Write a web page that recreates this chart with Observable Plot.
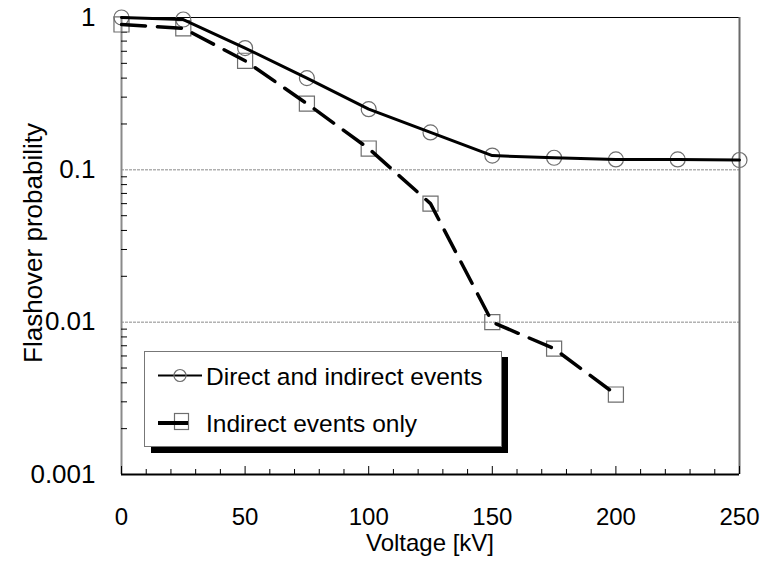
<!DOCTYPE html>
<html>
<head>
<meta charset="utf-8">
<script src="https://cdn.jsdelivr.net/npm/d3@7"></script>
<script src="https://cdn.jsdelivr.net/npm/@observablehq/plot@0.6"></script>
<style>
  html, body { margin: 0; padding: 0; background: #fff; }
  #chart { width: 778px; height: 562px; }
</style>
</head>
<body>
<div id="chart"></div>
<script>
// ---- data ----
const voltage = [0, 25, 50, 75, 100, 125, 150, 175, 200, 225, 250];
const directProb = [1.0, 0.97, 0.63, 0.40, 0.25, 0.176, 0.124, 0.12, 0.117, 0.117, 0.116];
const indirectVoltage = [0, 25, 50, 75, 100, 125, 150, 175, 200];
const indirectProb = [0.90, 0.85, 0.52, 0.272, 0.138, 0.060, 0.010, 0.0067, 0.00335];

const xTicks = [0, 50, 100, 150, 200, 250];
const xMinorTicks = d3.range(10, 250, 10).filter(v => v % 50 !== 0);
const yTicks = [1, 0.1, 0.01, 0.001];
const yTickLabels = ["1", "0.1", "0.01", "0.001"];
const yMinorTicks = [0.001, 0.01, 0.1].flatMap(d => [2,3,4,5,6,7,8,9].map(k => +(d * k).toPrecision(3)));
const gridValues = [0.1, 0.01];

const seriesNames = ["Direct and indirect events", "Indirect events only"];
const xLabel = "Voltage [kV]";
const yLabel = "Flashover probability";

const direct = voltage.map((v, i) => ({v, p: directProb[i]}));
const indirect = indirectVoltage.map((v, i) => ({v, p: indirectProb[i]}));

const W = 778, H = 562;
const mL = 121, mR = 39, mT = 17, mB = 88;
const frameH = H - mT - mB, frameW = W - mL - mR;
const FONT = "'Liberation Sans', Arial, Helvetica, sans-serif";

const chart = Plot.plot({
  width: W, height: H,
  marginLeft: mL, marginRight: mR, marginTop: mT, marginBottom: mB,
  style: {fontFamily: FONT, fontSize: "24px", background: "#fff", color: "#000", overflow: "visible"},
  x: {domain: [0, 250]},
  y: {type: "log", domain: [0.001, 1]},
  marks: [
    Plot.ruleY(gridValues, {stroke: "#8a8a8a", strokeWidth: 1, strokeDasharray: "3,1"}),
    Plot.ruleY([1], {stroke: "#000", strokeWidth: 1}),
    Plot.ruleX([250], {stroke: "#6a6a6a", strokeWidth: 2}),
    Plot.ruleX([0], {stroke: "#8a8a8a", strokeWidth: 2}),
    // minor ticks (inward)
    Plot.tickX(xMinorTicks, {x: d => d, insetTop: frameH - 5, stroke: "#000", strokeWidth: 1}),
    Plot.tickX(xTicks, {x: d => d, insetTop: frameH - 8, stroke: "#000", strokeWidth: 1}),
    Plot.tickY(yMinorTicks, {y: d => d, insetRight: frameW - 6, stroke: "#000", strokeWidth: 1}),
    Plot.ruleY([0.001], {stroke: "#000", strokeWidth: 2}),
    // markers
    Plot.dot(direct, {x: "v", y: "p", r: 7.5, symbol: "circle", stroke: "#6e6e6e", strokeWidth: 1.2, fill: "none"}),
    Plot.dot(indirect, {x: "v", y: "p", r: 8.5, symbol: "square", stroke: "#6e6e6e", strokeWidth: 1.2, fill: "none"}),
    // lines
    Plot.line(direct, {x: "v", y: "p", stroke: "#000", strokeWidth: 3}),
    Plot.line(indirect, {x: "v", y: "p", stroke: "#000", strokeWidth: 3.5, strokeDasharray: "24,12"}),
    Plot.axisX({ticks: xTicks, tickSize: 0, tickPadding: 33, label: null, tickFormat: d => String(d)}),
    Plot.axisY({ticks: yTicks, tickSize: 0, tickPadding: 26, label: null, fontSize: 26, tickFormat: d => yTickLabels[yTicks.indexOf(d)]})
  ]
});

document.getElementById("chart").appendChild(chart);

// axis titles and legend
const svg = d3.select(chart);
svg.append("text")
  .attr("x", (mL + W - mR) / 2).attr("y", 551)
  .attr("text-anchor", "middle")
  .style("font-family", FONT).style("font-size", "24px")
  .text(xLabel);
svg.append("text")
  .attr("transform", `translate(33, 243) rotate(-90)`)
  .attr("text-anchor", "middle").attr("dominant-baseline", "central")
  .style("font-family", FONT).style("font-size", "26px")
  .text(yLabel);

const lg = svg.append("g").attr("text-anchor", "start");
lg.append("rect").attr("x", 151).attr("y", 357).attr("width", 357).attr("height", 96).attr("fill", "#000");
lg.append("rect").attr("x", 144.5).attr("y", 351.5).attr("width", 357).attr("height", 95)
  .attr("fill", "#fff").attr("stroke", "#777").attr("stroke-width", 1);
// entry 1
lg.append("line").attr("x1", 158).attr("x2", 202).attr("y1", 375.5).attr("y2", 375.5).attr("stroke", "#000").attr("stroke-width", 2);
lg.append("circle").attr("cx", 180).attr("cy", 375.5).attr("r", 6).attr("fill", "none").attr("stroke", "#6e6e6e").attr("stroke-width", 1.2);
lg.append("text").attr("x", 206).attr("y", 385).attr("text-anchor", "start")
  .style("font-family", FONT).style("font-size", "24.5px").text(seriesNames[0]);
// entry 2
lg.append("rect").attr("x", 174.5).attr("y", 413.5).attr("width", 14).attr("height", 16).attr("fill", "#fff").attr("stroke", "#6e6e6e").attr("stroke-width", 1.2);
lg.append("line").attr("x1", 158).attr("x2", 188).attr("y1", 423).attr("y2", 423).attr("stroke", "#000").attr("stroke-width", 4);
lg.append("text").attr("x", 206).attr("y", 432).attr("text-anchor", "start")
  .style("font-family", FONT).style("font-size", "24.5px").text(seriesNames[1]);
</script>
</body>
</html>
